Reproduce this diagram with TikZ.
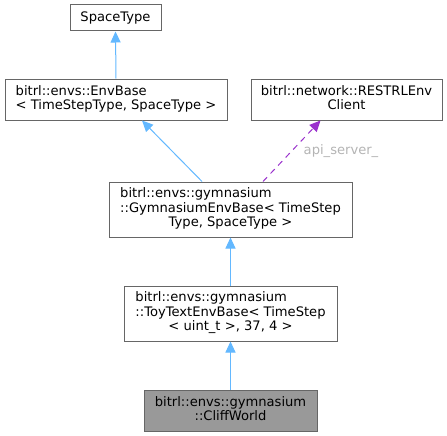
\documentclass[tikz,border=0pt]{standalone}
\usepackage{fontspec}
\setmainfont{DejaVu Sans}
\usetikzlibrary{arrows.meta}
\definecolor{edgeblue}{HTML}{63B8FF}
\definecolor{edgepurple}{HTML}{9A32CD}
\definecolor{boxline}{HTML}{666666}
\definecolor{lblgray}{HTML}{B4B4B4}
\newcommand{\dfont}{\fontsize{13.1}{14.5}\selectfont}
\newcommand{\lines}[2]{\begin{tabular}{@{}l@{}}#1\\\multicolumn{1}{@{}c@{}}{#2}\end{tabular}}
\newcommand{\tlines}[3]{\begin{tabular}{@{}l@{}}#1\\#2\\\multicolumn{1}{@{}c@{}}{#3}\end{tabular}}
\tikzset{
  cls/.style={draw=boxline, line width=1pt, fill=white, rectangle, inner sep=0pt, font=\dfont},
  inh/.style={draw=edgeblue, line width=1pt, -{Triangle[length=11pt,width=10pt]}},
  usage/.style={draw=edgepurple, line width=1pt, dash pattern=on 6pt off 5pt, -{Triangle[length=11pt,width=10pt]}},
  lbl/.style={text=lblgray, font=\dfont, inner sep=0pt}
}
\begin{document}
\begin{tikzpicture}[x=1pt,y=-1pt]
\useasboundingbox (0,0) rectangle (447,436);
\node[cls, minimum width=91pt, minimum height=26pt] (space) at (115.5,18) {SpaceType};
\node[cls, minimum width=222pt, minimum height=41pt] (envbase) at (116,99.5)
  {\lines{bitrl::envs::EnvBase}{< TimeStepType, SpaceType >}};
\node[cls, minimum width=191pt, minimum height=41pt] (client) at (346.5,99.5)
  {\lines{bitrl::network::RESTRLEnv}{Client}};
\node[cls, minimum width=243pt, minimum height=55pt] (gym) at (230.5,209.5)
  {\tlines{bitrl::envs::gymnasium}{::GymnasiumEnvBase< TimeStep}{Type, SpaceType >}};
\node[cls, minimum width=213pt, minimum height=55pt] (toy) at (230.5,313.5)
  {\tlines{bitrl::envs::gymnasium}{::ToyTextEnvBase< TimeStep}{< uint\_t >, 37, 4 >}};
\node[cls, fill={rgb,255:red,153;green,153;blue,153}, minimum width=173pt, minimum height=41pt] (cliff) at (230.5,410.5)
  {\lines{bitrl::envs::gymnasium}{::CliffWorld}};
\draw[inh] (envbase.north) -- (space.south);
\draw[inh] ([xshift=-28.5pt]gym.north) -- ([xshift=26pt]envbase.south);
\draw[usage] ([xshift=32.5pt]gym.north) -- ([xshift=-26pt]client.south);
\node[lbl] (lab) at (341,151) {api\_server\_};
\draw[inh] (toy.north) -- (gym.south);
\draw[inh] (cliff.north) -- (toy.south);
\end{tikzpicture}
\end{document}
